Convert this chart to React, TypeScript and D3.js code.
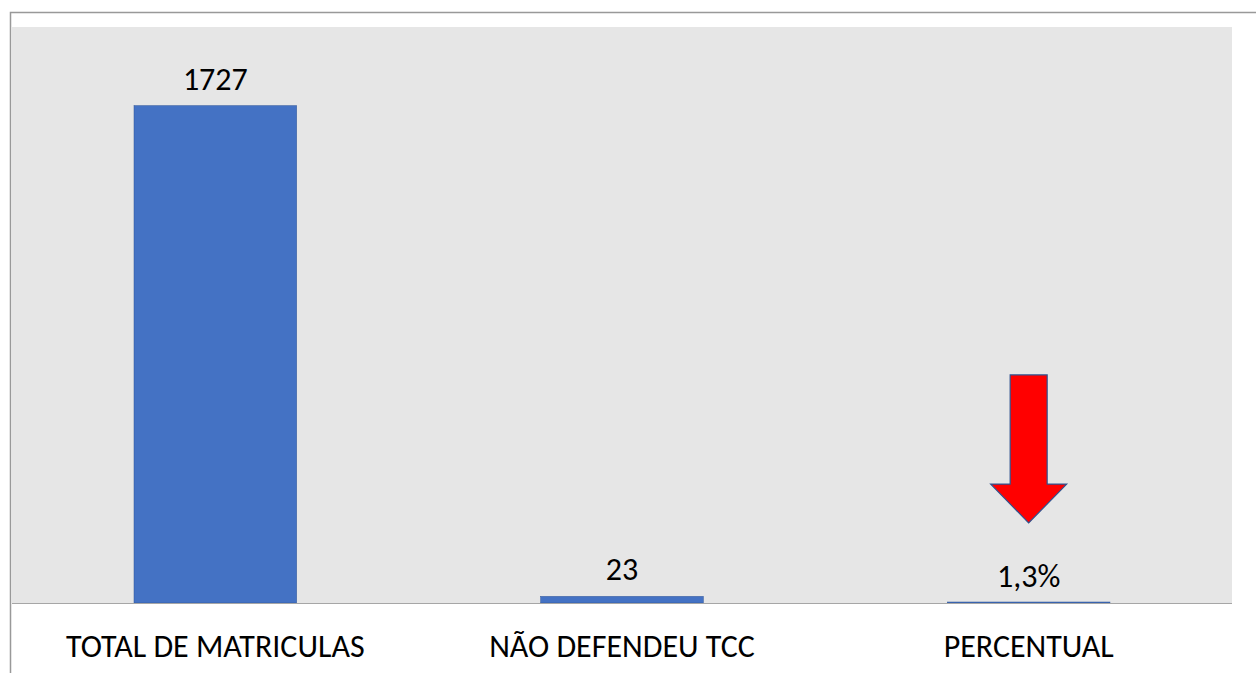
import { useEffect, useRef } from 'react'
import * as d3 from 'd3'

const categories = ['TOTAL DE MATRICULAS', 'NÃO DEFENDEU TCC', 'PERCENTUAL']
const values = [1727, 23, 1.3]
const valueLabels = ['1727', '23', '1,3%']
// arrow annotation over the last bar, in data units
const arrowTop = 792
const arrowNeck = 413
const arrowTip = 278

const W = 1256
const H = 673

const App = () => {
  const svgRef = useRef<SVGSVGElement>(null)

  useEffect(() => {
    const svg = d3.select(svgRef.current)
    svg.selectAll('*').remove()

    const plot = { left: 12, right: 1232, top: 27, bottom: 603 }
    const font = 'Carlito, Calibri, "Open Sans", sans-serif'

    const x = d3.scaleBand()
      .domain(categories)
      .range([plot.left, plot.right])
      .paddingInner(0.6)
      .paddingOuter(0.3)

    const y = d3.scaleLinear()
      .domain([0, 2000])
      .range([plot.bottom, plot.top])

    // outer frame
    svg.append('path')
      .attr('d', `M10.5,${H} L10.5,12.5 L${W},12.5`)
      .attr('fill', 'none')
      .attr('stroke', '#999')
      .attr('stroke-width', 1.5)

    svg.append('rect')
      .attr('x', plot.left)
      .attr('y', plot.top)
      .attr('width', plot.right - plot.left)
      .attr('height', plot.bottom - plot.top)
      .attr('fill', '#e6e6e6')

    svg.selectAll('rect.bar')
      .data(values)
      .join('rect')
      .attr('class', 'bar')
      .attr('x', (d, i) => x(categories[i])!)
      .attr('width', x.bandwidth())
      .attr('y', d => Math.min(y(d), plot.bottom - 1))
      .attr('height', d => Math.max(plot.bottom - y(d), 1))
      .attr('fill', '#4472c4')
      .attr('stroke', '#2f5597')
      .attr('stroke-width', 0.5)

    // baseline
    svg.append('line')
      .attr('x1', plot.left)
      .attr('x2', plot.right)
      .attr('y1', plot.bottom + 0.5)
      .attr('y2', plot.bottom + 0.5)
      .attr('stroke', '#a6a6a6')
      .attr('stroke-width', 1)

    svg.selectAll('text.val')
      .data(values)
      .join('text')
      .attr('class', 'val')
      .attr('x', (d, i) => x(categories[i])! + x.bandwidth() / 2)
      .attr('y', d => y(d) - 16)
      .attr('text-anchor', 'middle')
      .style('font-family', font)
      .style('font-size', '32px')
      .attr('fill', '#000')
      .text((d, i) => valueLabels[i])

    svg.selectAll('text.cat')
      .data(categories)
      .join('text')
      .attr('class', 'cat')
      .attr('x', d => x(d)! + x.bandwidth() / 2)
      .attr('y', 657)
      .attr('text-anchor', 'middle')
      .style('font-family', font)
      .style('font-size', '32px')
      .attr('fill', '#000')
      .text(d => d)

    // red down arrow
    const cx = x('PERCENTUAL')! + x.bandwidth() / 2
    const sw = 18.5
    const hw = 38
    const arrow = d3.path()
    arrow.moveTo(cx - sw, y(arrowTop))
    arrow.lineTo(cx + sw, y(arrowTop))
    arrow.lineTo(cx + sw, y(arrowNeck))
    arrow.lineTo(cx + hw, y(arrowNeck))
    arrow.lineTo(cx, y(arrowTip))
    arrow.lineTo(cx - hw, y(arrowNeck))
    arrow.lineTo(cx - sw, y(arrowNeck))
    arrow.closePath()
    svg.append('path')
      .attr('d', arrow.toString())
      .attr('fill', '#ff0000')
      .attr('stroke', '#2f528f')
      .attr('stroke-width', 1.2)
  }, [])

  return (
    <svg ref={svgRef} width={W} height={H}
      style={{ position: 'absolute', left: 0, top: 0, background: '#fff' }} />
  )
}

export default App
